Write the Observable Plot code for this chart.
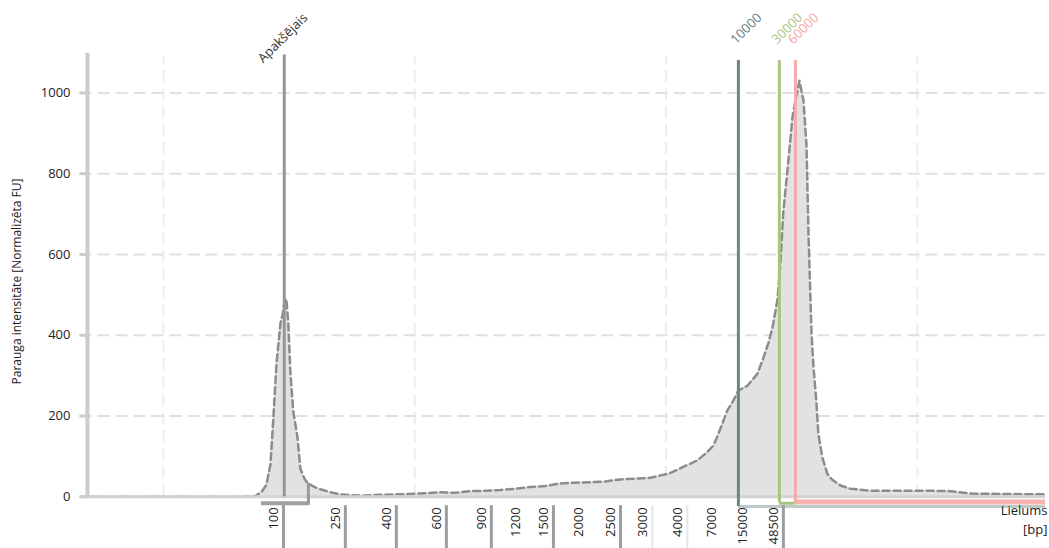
<!DOCTYPE html>
<html><head><meta charset="utf-8">
<script src="https://cdn.jsdelivr.net/npm/d3@7"></script>
<script src="https://cdn.jsdelivr.net/npm/@observablehq/plot@0.6"></script>
<style>body{margin:0;background:#fff} svg{display:block} #chart{width:1049px;height:548px}</style>
</head><body><div id="chart"></div>
<script>
// Migration position (arbitrary units) and normalized intensity (FU)
const positions = [-30.2, 0, 30, 36.6, 38, 39.4, 41, 42.6, 43.8, 45, 45.8, 46.6, 47.4, 48.1, 48.9, 49.7, 50.5, 51.7, 53.3, 54.5, 56.1, 57.3, 59.3, 61.7, 64.5, 67.3, 70.4, 74.4, 80.4, 86.4, 92.3, 98.3, 104.3, 110.2, 116.2, 122.2, 128.1, 134.1, 140.1, 146.0, 152.0, 158.0, 163.9, 169.9, 175.9, 181.9, 187.8, 193.8, 197.8, 201.0, 204.5, 208.9, 212.5, 215.7, 218.9, 220.9, 222.4, 224.4, 226.8, 228.8, 232.4, 236.4, 238.8, 240.7, 242.4, 244.3, 245.5, 246.7, 248.3, 250.3, 251.5, 253.1, 254.7, 255.9, 256.7, 257.9, 258.7, 259.8, 260.6, 262.2, 264.2, 266.2, 269.4, 273.4, 281.3, 293.3, 305.2, 313.2, 321.1, 333.1, 351];
const intensity = [0, 0, 0, 2, 8, 15, 30, 80, 200, 330, 380, 430, 450, 480, 490, 430, 310, 210, 150, 70, 45, 35, 27, 20, 15, 10, 6, 4, 3, 5, 6, 7, 9, 11, 10, 14, 15, 17, 20, 24, 27, 33, 35, 36, 38, 43, 45, 47, 53, 57, 67, 80, 90, 107, 127, 157, 181, 214, 238, 263, 275, 305, 345, 380, 420, 486, 577, 708, 807, 939, 981, 1030, 981, 870, 650, 404, 320, 238, 157, 97, 57, 42, 28, 20, 15, 15, 15, 14, 8, 7, 6];

// Ladder (size axis) tick labels and their positions
const ladderLabels = ["100", "250", "400", "600", "900", "1200", "1500", "2000", "2500", "3000", "4000", "7000", "15000", "48500"];
const ladderPositions = [47.8, 72.4, 92.7, 112.6, 130.5, 144.1, 155.2, 169.1, 181.9, 194.6, 208.5, 222.4, 234.4, 246.7];
const strongTickLabels = ["100", "250", "400", "600", "900", "1500", "2500", "48500"];
const faintTickLabels = ["3000", "4000"];

// Markers
const markerNames = ["Apakšējais", "10000", "30000", "60000"];
const markerPositions = [48.1, 228.8, 245.1, 251.5];

// Axis ticks
const yTicks = [0, 200, 400, 600, 800, 1000];
const xGrid = [0, 100, 200, 300];

const data = positions.map((p, i) => ({p, v: intensity[i]}));
const ladder = ladderLabels.map((l, i) => ({label: l, p: ladderPositions[i]}));
const markers = markerNames.map((n, i) => ({name: n, p: markerPositions[i]}));

const xMin = -30.2, xMax = 351;
const markerColor = d3.scaleOrdinal(markerNames, ["#333333", "#5f7c7c", "#a9c47e", "#f5a7a1"]);
const lineColor = d3.scaleOrdinal(markerNames, ["#969696", "#6a8686", "#a9c47e", "#f5aaa5"]);
const font = "'Open Sans', 'Noto Sans', sans-serif";

const chart = Plot.plot({
  width: 1049, height: 548,
  marginLeft: 87, marginRight: 4, marginTop: 52, marginBottom: 0,
  x: {domain: [xMin, xMax], axis: null},
  y: {domain: [-128, 1100], axis: null},
  style: {fontFamily: font, fontSize: "13px", background: "#fff", overflow: "visible"},
  marks: [
    // grid
    Plot.ruleX(xGrid, {x: d => d, y1: 0, y2: 1090, stroke: "#ededed", strokeWidth: 2, strokeDasharray: "12,6"}),
    Plot.ruleY(yTicks.filter(d => d > 0), {y: d => d, x1: xMin - 3, x2: xMax, stroke: "#e0e0e0", strokeWidth: 2, strokeDasharray: "12,6"}),
    // curve
    Plot.areaY(data, {x: "p", y: "v", fill: "#e2e2e2"}),
    Plot.lineY(data, {x: "p", y: "v", stroke: "#8c8c8c", strokeWidth: 2.5, strokeDasharray: "7,4"}),
    // axes lines
    Plot.ruleY([0], {x1: xMin - 3, x2: xMax, stroke: "#d3d3d3", strokeWidth: 3}),
    Plot.ruleX([xMin], {y1: 0, y2: 1098, stroke: "#cccccc", strokeWidth: 4}),
    Plot.ruleY(yTicks, {y: d => d, x1: xMin - 3, x2: xMin, stroke: "#cccccc", strokeWidth: 3}),
    Plot.text(yTicks, {x: xMin, y: d => d, text: d => String(d), dx: -17, textAnchor: "end", fill: "#222", fontSize: 13}),
    Plot.text(["Parauga intensitāte [Normalizēta FU]"], {frameAnchor: "left", dx: -70, dy: -19, rotate: -90, textAnchor: "middle", fill: "#222", fontSize: 12}),
    // lower marker bracket
    Plot.ruleY([-16], {x1: 39.0, x2: 57.7, stroke: "#a0a0a0", strokeWidth: 4}),
    Plot.ruleX([57.7], {y1: 33, y2: -21, stroke: "#9a9a9a", strokeWidth: 3}),
    // region lines
    Plot.ruleY([-24], {x1: markerPositions[1], x2: xMax, stroke: "#bccaca", strokeWidth: 3}),
    Plot.ruleY([-16], {x1: markerPositions[2], x2: markerPositions[3], stroke: "#a9c47e", strokeWidth: 3}),
    Plot.ruleY([-13], {x1: markerPositions[3], x2: xMax, stroke: "#f8b3ae", strokeWidth: 5}),
    // marker lines
    Plot.ruleX(markers, {x: "p", y1: d => d.name === "Apakšējais" ? 0 : (d.name === "10000" ? -24 : -14), y2: d => d.name === "Apakšējais" ? 1094 : 1080, stroke: d => lineColor(d.name), strokeWidth: 3}),
    Plot.text(markers, {x: "p", y: 1100, text: "name", dx: 24, dy: -34, rotate: -45, textAnchor: "end", lineAnchor: "bottom", fill: d => markerColor(d.name), fontSize: 13}),
    // ladder ticks
    Plot.ruleX(ladder.filter(d => strongTickLabels.includes(d.label)), {x: "p", y1: -22, y2: -128, stroke: "#9d9d9d", strokeWidth: 3}),
    Plot.ruleX(ladder.filter(d => faintTickLabels.includes(d.label)), {x: "p", y1: -22, y2: -128, stroke: "#e6e6e6", strokeWidth: 2}),
    Plot.text(ladder, {x: "p", y: -26, text: "label", dx: -10, rotate: -90, textAnchor: "end", fill: "#222", fontSize: 13}),
    // x label
    Plot.text(["Lielums"], {x: xMax, y: -44, dx: 2, textAnchor: "end", lineAnchor: "bottom", fill: "#222", fontSize: 13}),
    Plot.text(["[bp]"], {x: xMax, y: -91, dx: 2, textAnchor: "end", lineAnchor: "bottom", fill: "#222", fontSize: 13})
  ]
});
document.getElementById("chart").appendChild(chart);
</script>
</body></html>
